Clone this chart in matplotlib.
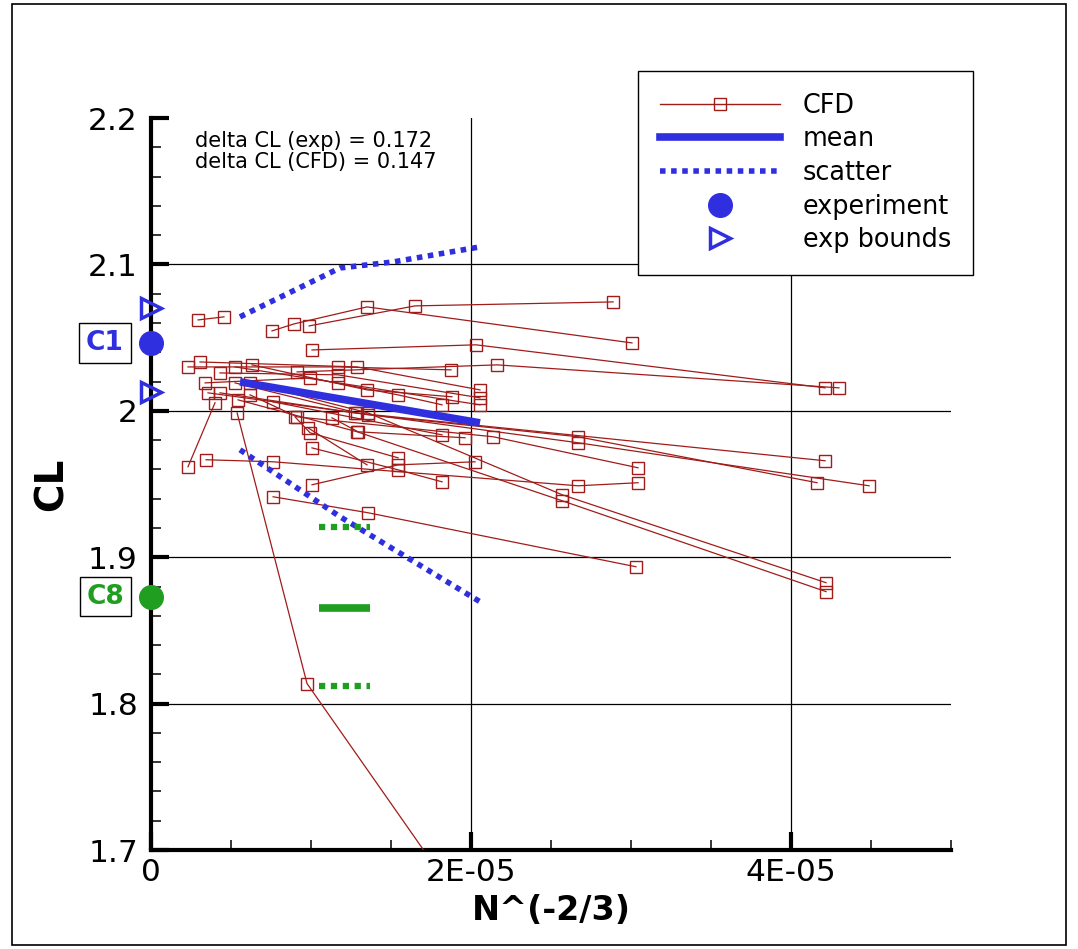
import numpy as np
import matplotlib.pyplot as plt
from matplotlib.lines import Line2D
from matplotlib.patches import Rectangle

SCALE = 1e-5
CFD_RED = '#a01c1a'
BLUE = '#2f2fe0'
GREEN = '#1f9e1f'

# CFD grid-convergence runs, x in units of 1E-05
cfd_x = [
    [0.294, 0.456],
    [0.756, 0.894, 1.350, 3.006],
    [0.988, 1.650, 2.888],
    [1.006, 2.031, 4.213],
    [0.913, 2.163, 4.300],
    [0.231, 1.169, 1.875],
    [0.306, 1.288, 2.056],
    [0.431, 1.169, 2.056],
    [0.525, 1.169, 2.056],
    [0.631, 1.350, 1.881],
    [0.338, 0.994, 1.544, 1.819],
    [0.356, 1.275, 4.213],
    [0.431, 1.356, 2.669, 4.163],
    [0.525, 1.288, 2.669, 4.488],
    [0.619, 1.356, 2.569, 4.219],
    [0.544, 1.288, 2.569, 4.219],
    [0.619, 0.913, 2.138, 3.044],
    [0.344, 0.763, 2.669, 3.044],
    [0.231, 0.400],
    [0.538, 0.975, 2.344],
    [0.763, 1.356, 3.031],
    [1.006, 1.544, 2.025],
    [1.006, 1.544, 1.819],
    [0.900, 0.994, 1.544],
    [0.981, 1.350],
    [1.131, 1.294, 1.963],
    [0.763, 1.819],
]
cfd_y = [
    [2.0621, 2.0642],
    [2.0546, 2.0594, 2.0710, 2.0464],
    [2.0580, 2.0717, 2.0744],
    [2.0416, 2.0451, 2.0157],
    [2.0266, 2.0314, 2.0157],
    [2.0300, 2.0300, 2.0280],
    [2.0334, 2.0300, 2.0143],
    [2.0259, 2.0246, 2.0089],
    [2.0300, 2.0191, 2.0041],
    [2.0314, 2.0143, 2.0096],
    [2.0191, 2.0225, 2.0109, 2.0041],
    [2.0123, 1.9986, 1.9659],
    [2.0123, 1.9973, 1.9823, 1.9509],
    [2.0191, 1.9986, 1.9782, 1.9488],
    [2.0191, 1.9986, 1.9427, 1.8826],
    [2.0075, 1.9857, 1.9386, 1.8765],
    [2.0109, 1.9959, 1.9823, 1.9611],
    [1.9666, 1.9652, 1.9488, 1.9509],
    [1.9618, 2.0055],
    [1.9986, 1.8137, 1.6000],
    [1.9413, 1.9304, 1.8935],
    [1.9495, 1.9631, 1.9652],
    [1.9747, 1.9597, 1.9515],
    [1.9959, 1.9850, 1.9679],
    [1.9884, 1.9631],
    [1.9952, 1.9857, 1.9816],
    [2.0061, 1.9836],
]

mean_x = [0.556, 2.056]
mean_y = [2.0198, 1.9918]
scatter_hi_x = [0.556, 1.181, 1.5125, 2.056]
scatter_hi_y = [2.0642, 2.0976, 2.1017, 2.112]
scatter_lo_x = [0.556, 1.181, 2.056]
scatter_lo_y = [1.9734, 1.9277, 1.8696]

# C1 experiment and its bounds, C8 experiment
c1_exp = 2.0464
c1_bounds = [2.0703, 2.0130]
c8_exp = 1.8730
c8_x = [1.05, 1.37]
c8_mean = 1.8655
c8_scatter = [1.9208, 1.8123]

xticks = [0, 2e-5, 4e-5]
xtick_labels = ['0', '2E-05', '4E-05']
yticks = [1.7, 1.8, 1.9, 2.0, 2.1, 2.2]
ytick_labels = ['1.7', '1.8', '1.9', '2', '2.1', '2.2']

fig = plt.figure(figsize=(10.78, 9.49), dpi=100)
fig.patches.append(Rectangle((0.0111, 0.0042), 0.9778, 0.9916, transform=fig.transFigure,
                             fill=False, edgecolor='black', lw=1.2))
ax = fig.add_axes([0.1401, 0.1043, 0.7421, 0.7713])

for v in yticks[1:-1]:
    ax.axhline(v, color='black', lw=0.9, zorder=0.5)
for v in xticks[1:]:
    ax.axvline(v, color='black', lw=0.9, zorder=0.5)

for xs, ys in zip(cfd_x, cfd_y):
    ax.plot(np.array(xs) * SCALE, ys, color=CFD_RED, lw=0.9, marker='s', ms=8,
            mfc='none', mew=1.0, zorder=3)

ax.plot(np.array(mean_x) * SCALE, mean_y, color=BLUE, lw=5.5, solid_capstyle='butt', zorder=4)
ax.plot(np.array(scatter_hi_x) * SCALE, scatter_hi_y, color=BLUE, lw=4, ls=(0, (1, 1)), zorder=4)
ax.plot(np.array(scatter_lo_x) * SCALE, scatter_lo_y, color=BLUE, lw=4, ls=(0, (1, 1)), zorder=4)

gx = np.array(c8_x) * SCALE
ax.plot(gx, [c8_mean, c8_mean], color=GREEN, lw=5.5, solid_capstyle='butt', zorder=4)
for v in c8_scatter:
    ax.plot(gx, [v, v], color=GREEN, lw=4.5, ls=(0, (1, 0.9)), zorder=4)

ax.plot([0], [c1_exp], 'o', ms=17, color=BLUE, clip_on=False, zorder=6)
ax.plot([0, 0], c1_bounds, '>', ms=15, mfc='none', mec=BLUE, mew=2.5, ls='none',
        clip_on=False, zorder=6)
ax.plot([0], [c8_exp], 'o', ms=17, color=GREEN, clip_on=False, zorder=6)

box = dict(boxstyle='square,pad=0.25', fc='white', ec='black', lw=1)
ax.text(-0.2875e-5, c1_exp, 'C1', color=BLUE, fontsize=19, fontweight='bold',
        ha='center', va='center', bbox=box, clip_on=False)
ax.text(-0.2875e-5, c8_exp, 'C8', color=GREEN, fontsize=19, fontweight='bold',
        ha='center', va='center', bbox=box, clip_on=False)

ax.text(0.055, 0.982, 'delta CL (exp) = 0.172\ndelta CL (CFD) = 0.147',
        transform=ax.transAxes, fontsize=15, va='top', ha='left', linespacing=1.05)

ax.set_xlim(0, 5e-5)
ax.set_ylim(1.7, 2.2)
ax.set_xticks(xticks, xtick_labels)
ax.set_yticks(yticks, ytick_labels)
ax.xaxis.set_minor_locator(plt.MultipleLocator(0.5e-5))
ax.yaxis.set_minor_locator(plt.MultipleLocator(0.02))
ax.tick_params(which='major', direction='in', length=13, width=3, labelsize=22.5)
ax.tick_params(which='minor', direction='in', length=7, width=1.1)
ax.tick_params(axis='y', which='major', pad=9.5)
ax.tick_params(axis='x', which='major', pad=5.5)
for s in ['top', 'right']:
    ax.spines[s].set_visible(False)
for s in ['left', 'bottom']:
    ax.spines[s].set_linewidth(3)

ax.set_xlabel('N^(-2/3)', fontsize=24, fontweight='bold')
ax.set_ylabel('CL', fontsize=28, fontweight='bold')
ax.xaxis.set_label_coords(0.5, -0.06)
ax.yaxis.set_label_coords(-0.1, 0.5)

handles = [
    Line2D([], [], color=CFD_RED, lw=1, marker='s', ms=8, mfc='none', mew=1),
    Line2D([], [], color=BLUE, lw=5.5),
    Line2D([], [], color=BLUE, lw=4, ls=(0, (1, 1))),
    Line2D([], [], color=BLUE, marker='o', ms=17, ls='none'),
    Line2D([], [], color=BLUE, marker='>', ms=15, mfc='none', mew=2.5, ls='none'),
]
labels = ['CFD', 'mean', 'scatter', 'experiment', 'exp bounds']
leg = fig.legend(handles, labels, loc='upper left', bbox_to_anchor=(638 / 1078, 1 - 71 / 949),
                 frameon=True, fancybox=False, edgecolor='black', framealpha=1,
                 fontsize=18.4, handlelength=4.7, handletextpad=0.9, borderpad=0.85,
                 labelspacing=0.3, numpoints=1, borderaxespad=0)
leg.get_frame().set_linewidth(1.0)

fig.savefig('out.png', dpi=100)
